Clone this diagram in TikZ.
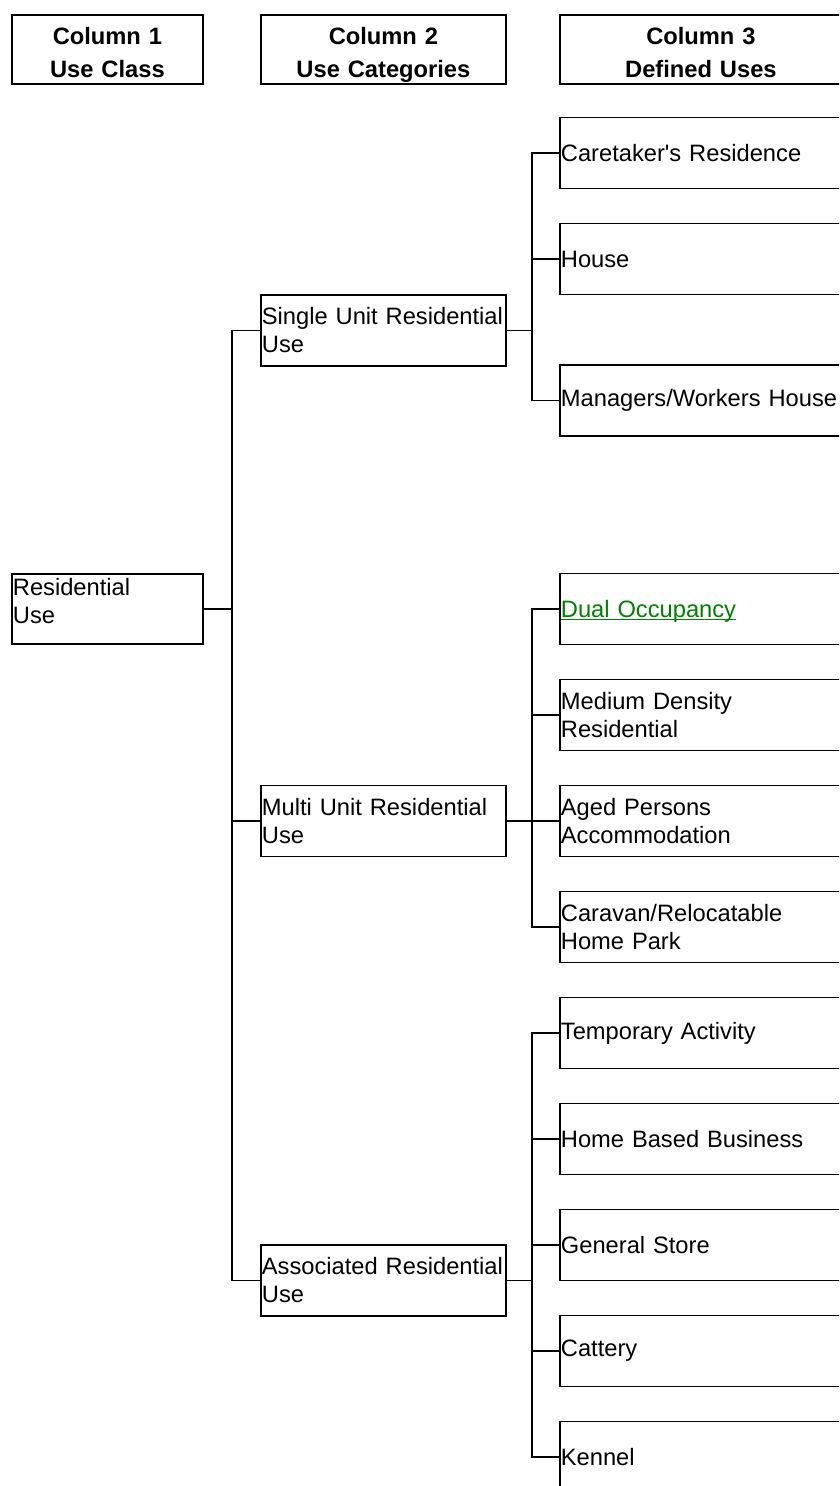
\documentclass[tikz,border=0pt]{standalone}
\usepackage{fontspec}
\setmainfont{Liberation Sans}
\definecolor{linkgreen}{RGB}{0,128,0}

\tikzset{
  box/.style={draw, line width=1.8pt, anchor=west, inner xsep=1pt, inner ysep=0pt,
    align=left, font=\fontsize{23.7}{28}\selectfont},
  headbox/.style={draw, line width=1.8pt, anchor=north west, inner xsep=1pt, inner ysep=0pt,
    align=center, text height=29.3pt, text depth=39.7pt, font=\fontsize{23.7}{33}\selectfont\bfseries},
  link/.style={line width=1.8pt}
}

\begin{document}
\begin{tikzpicture}[x=1pt, y=-1pt]

\clip (0,0) rectangle (839,1486);

\node[headbox, text width=189pt] (head1) at (11,14) {Column 1\\Use Class};
\node[headbox, text width=243pt] (head2) at (260,14) {Column 2\\Use Categories};
\node[headbox, text width=280pt] (head3) at (559,14) {Column 3\\Defined Uses};

\node[box, text width=189pt, minimum height=70pt, text depth=43.3pt] (res) at (11,609) {Residential\\Use};

\foreach \n/\y/\txt in {single/330.5/{Single Unit Residential\\Use},
                        multi/821/{Multi Unit Residential\\Use},
                        assoc/1280.5/{Associated Residential\\Use}}{
  \node[box, text width=243pt, minimum height=71pt] (\n) at (260,\y) {\txt};
  \draw[link] (res.east) -- ++(28,0) |- (\n.west);
}

\foreach \p/\n/\y/\txt in {single/care/153/{Caretaker\textquotesingle s Residence},
                           single/house/259/{House},
                           single/mgr/400.5/{Managers/Workers House},
                           multi/dual/609/{\color{linkgreen}\raisebox{0pt}[17.3pt][0pt]{\underline{\smash{Dual Occupancy}}}},
                           multi/medium/715/{Medium Density\\Residential},
                           multi/aged/821/{Aged Persons\\Accommodation},
                           multi/caravan/927/{Caravan/Relocatable\\Home Park},
                           assoc/temp/1033/{Temporary Activity},
                           assoc/home/1139/{Home Based Business},
                           assoc/store/1245/{General Store},
                           assoc/cattery/1351/{Cattery},
                           assoc/kennel/1457/{Kennel}}{
  \node[box, text width=282pt, minimum height=71pt] (\n) at (559,\y) {\txt};
  \draw[link] (\p.east) -- ++(25,0) |- (\n.west);
}

\end{tikzpicture}
\end{document}
